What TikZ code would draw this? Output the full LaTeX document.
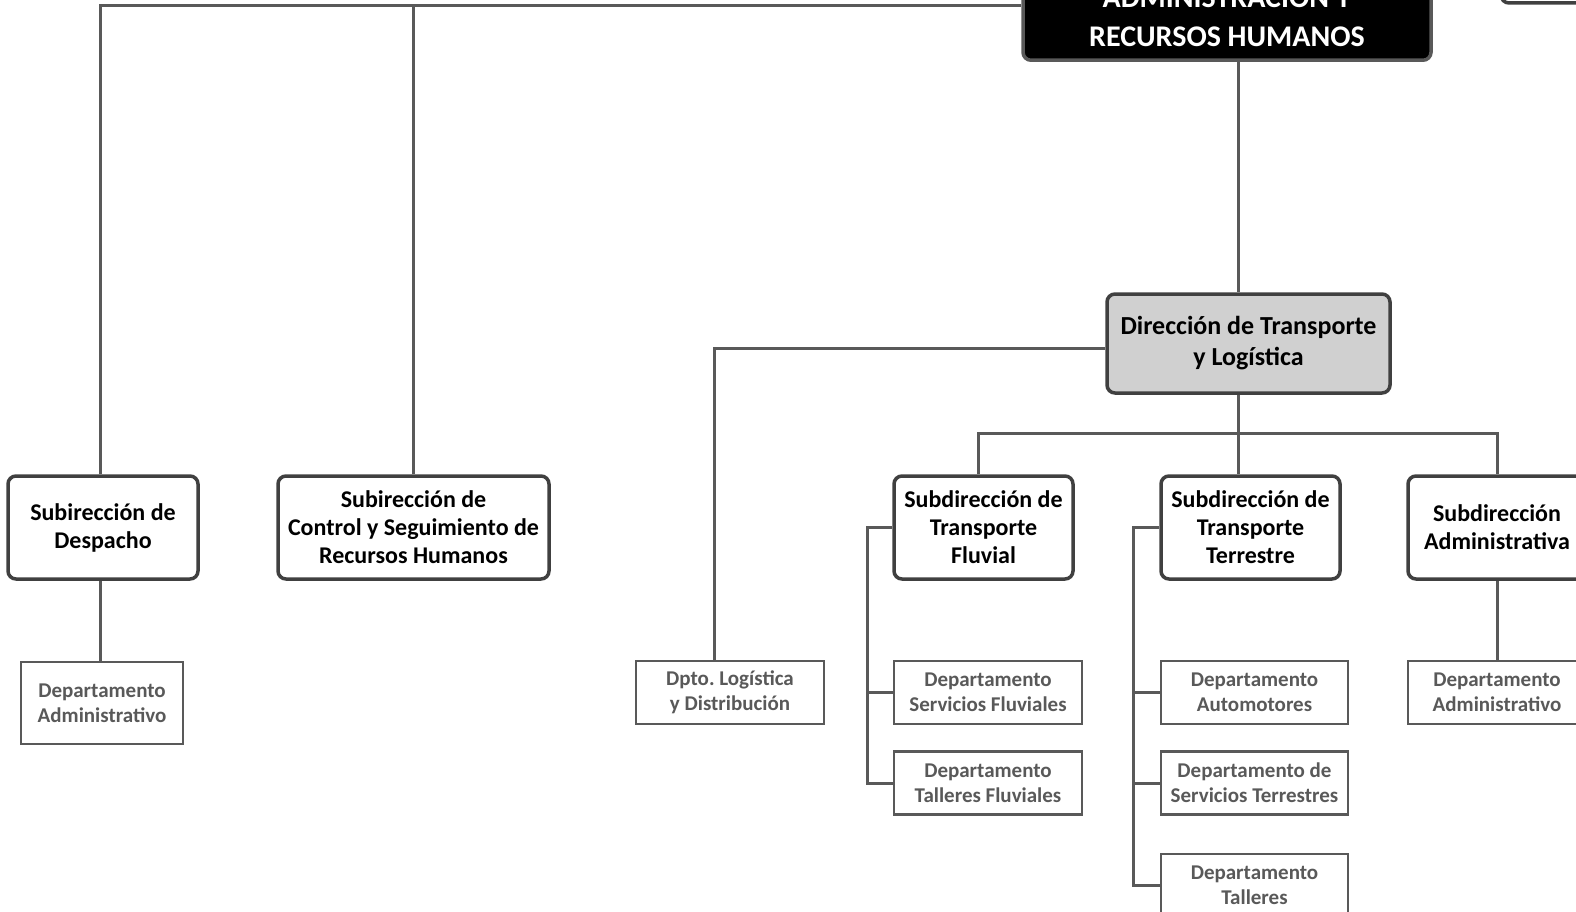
\documentclass[tikz,border=0pt]{standalone}
\usepackage{fontspec}
\setmainfont{Carlito}
\frenchspacing
\usetikzlibrary{positioning}
\definecolor{linea}{HTML}{595959}
\definecolor{borde}{HTML}{404040}
\definecolor{relleno}{HTML}{D0D0D0}

\begin{document}
\begin{tikzpicture}[x=1pt, y=-1pt,
    sub/.style={draw=borde, line width=3.5pt, rounded corners=8pt, fill=white,
        align=center, inner sep=0pt, minimum height=103pt,
        font=\fontsize{24}{28}\selectfont\bfseries},
    depto/.style={draw=linea, line width=2.5pt, fill=white, text=linea,
        align=center, inner sep=0pt, minimum height=63pt,
        font=\fontsize{21}{25}\selectfont\bfseries},
    enlace/.style={draw=linea, line width=3pt}
]
    \useasboundingbox (0,0) rectangle (1576,912);
    \clip (0,0) rectangle (1576,912);

    % cabecera %
    \node [sub,
        fill=black, text=white, draw=linea,
        minimum width=408pt, minimum height=0pt,
        inner ysep=14pt, anchor=south,
        font=\fontsize{30}{39}\selectfont\bfseries
    ] (admin) at (1227,62) {\vphantom{X}\\ADMINISTRACIÓN Y\\RECURSOS HUMANOS};

    \node [sub,
        minimum width=200pt, minimum height=100pt
    ] (vecino) at (1601,-47) {};

    \node [sub,
        minimum width=283pt, minimum height=99pt,
        fill=relleno,
        font=\fontsize{26}{31}\selectfont\bfseries
    ] (direccion) at (1248.5,343.5) {Dirección de Transporte\\y Logística};

    % subdirecciones %
    \node [sub, minimum width=190pt] (despacho) at (103,527.5)
        {Subirección de\\Despacho};
    \node [sub, minimum width=271pt] (control) at (413.5,527.5)
        {Subirección de\\Control y Seguimiento de\\Recursos Humanos};
    \node [sub, minimum width=179pt] (fluvial) at (983.5,527.5)
        {Subdirección de\\Transporte\\Fluvial};
    \node [sub, minimum width=179pt] (terrestre) at (1250.5,527.5)
        {Subdirección de\\Transporte\\Terrestre};
    \node [sub, minimum width=178pt] (administrativa) at (1497,527.5)
        {Subdirección\\Administrativa};

    % departamentos %
    \node [depto, minimum width=162pt, minimum height=82pt] (depDesp) at (102,703)
        {Departamento\\Administrativo};
    \node [depto, minimum width=188pt] (logistica) at (730,692.5)
        {Dpto. Logística\\y Distribución};
    \node [depto, minimum width=188pt] (servFluv) at (988,692.5)
        {Departamento\\Servicios Fluviales};
    \node [depto, minimum width=188pt, below=25pt of servFluv] (tallFluv)
        {Departamento\\Talleres Fluviales};
    \node [depto, minimum width=187pt] (automotores) at (1254.5,692.5)
        {Departamento\\Automotores};
    \node [depto, minimum width=187pt, below=25pt of automotores] (servTerr)
        {Departamento de\\Servicios Terrestres};
    \node [depto, minimum width=187pt, below=37pt of servTerr] (talleres)
        {Departamento\\Talleres};
    \node [depto, minimum width=178pt] (depAdm) at (1497,692.5)
        {Departamento\\Administrativo};

    % lineas %
    \coordinate (eje) at (1238,433);
    \coordinate (bf) at (867,0);
    \coordinate (bt) at (1133,0);

    \draw[enlace] ([xshift=-3pt]despacho.north) |- ([yshift=-8pt]admin.west);
    \draw[enlace] (control.north) |- ([yshift=-8pt]admin.west);
    \draw[enlace] (admin.south -| eje) -- (direccion.north -| eje);
    \draw[enlace] (direccion.south -| eje) -- (eje);
    \draw[enlace] ([xshift=-5.5pt]fluvial.north) |- (administrativa.north |- eje)
        -- (administrativa.north);
    \draw[enlace] (eje) -- (terrestre.north -| eje);
    \draw[enlace] ([yshift=-4.5pt]direccion.west) -| ([xshift=-16pt]logistica.north);

    \draw[enlace] ([xshift=-3pt]despacho.south) -- ([xshift=-3pt]despacho.south |- depDesp.north);
    \draw[enlace] (administrativa.south) -- (depAdm.north);

    \draw[enlace] (fluvial.west) -| (bf |- tallFluv.west) -- (tallFluv.west);
    \draw[enlace] (bf |- servFluv.west) -- (servFluv.west);

    \draw[enlace] (terrestre.west) -| (bt |- talleres.west) -- (talleres.west);
    \draw[enlace] (bt |- automotores.west) -- (automotores.west);
    \draw[enlace] (bt |- servTerr.west) -- (servTerr.west);
\end{tikzpicture}
\end{document}
